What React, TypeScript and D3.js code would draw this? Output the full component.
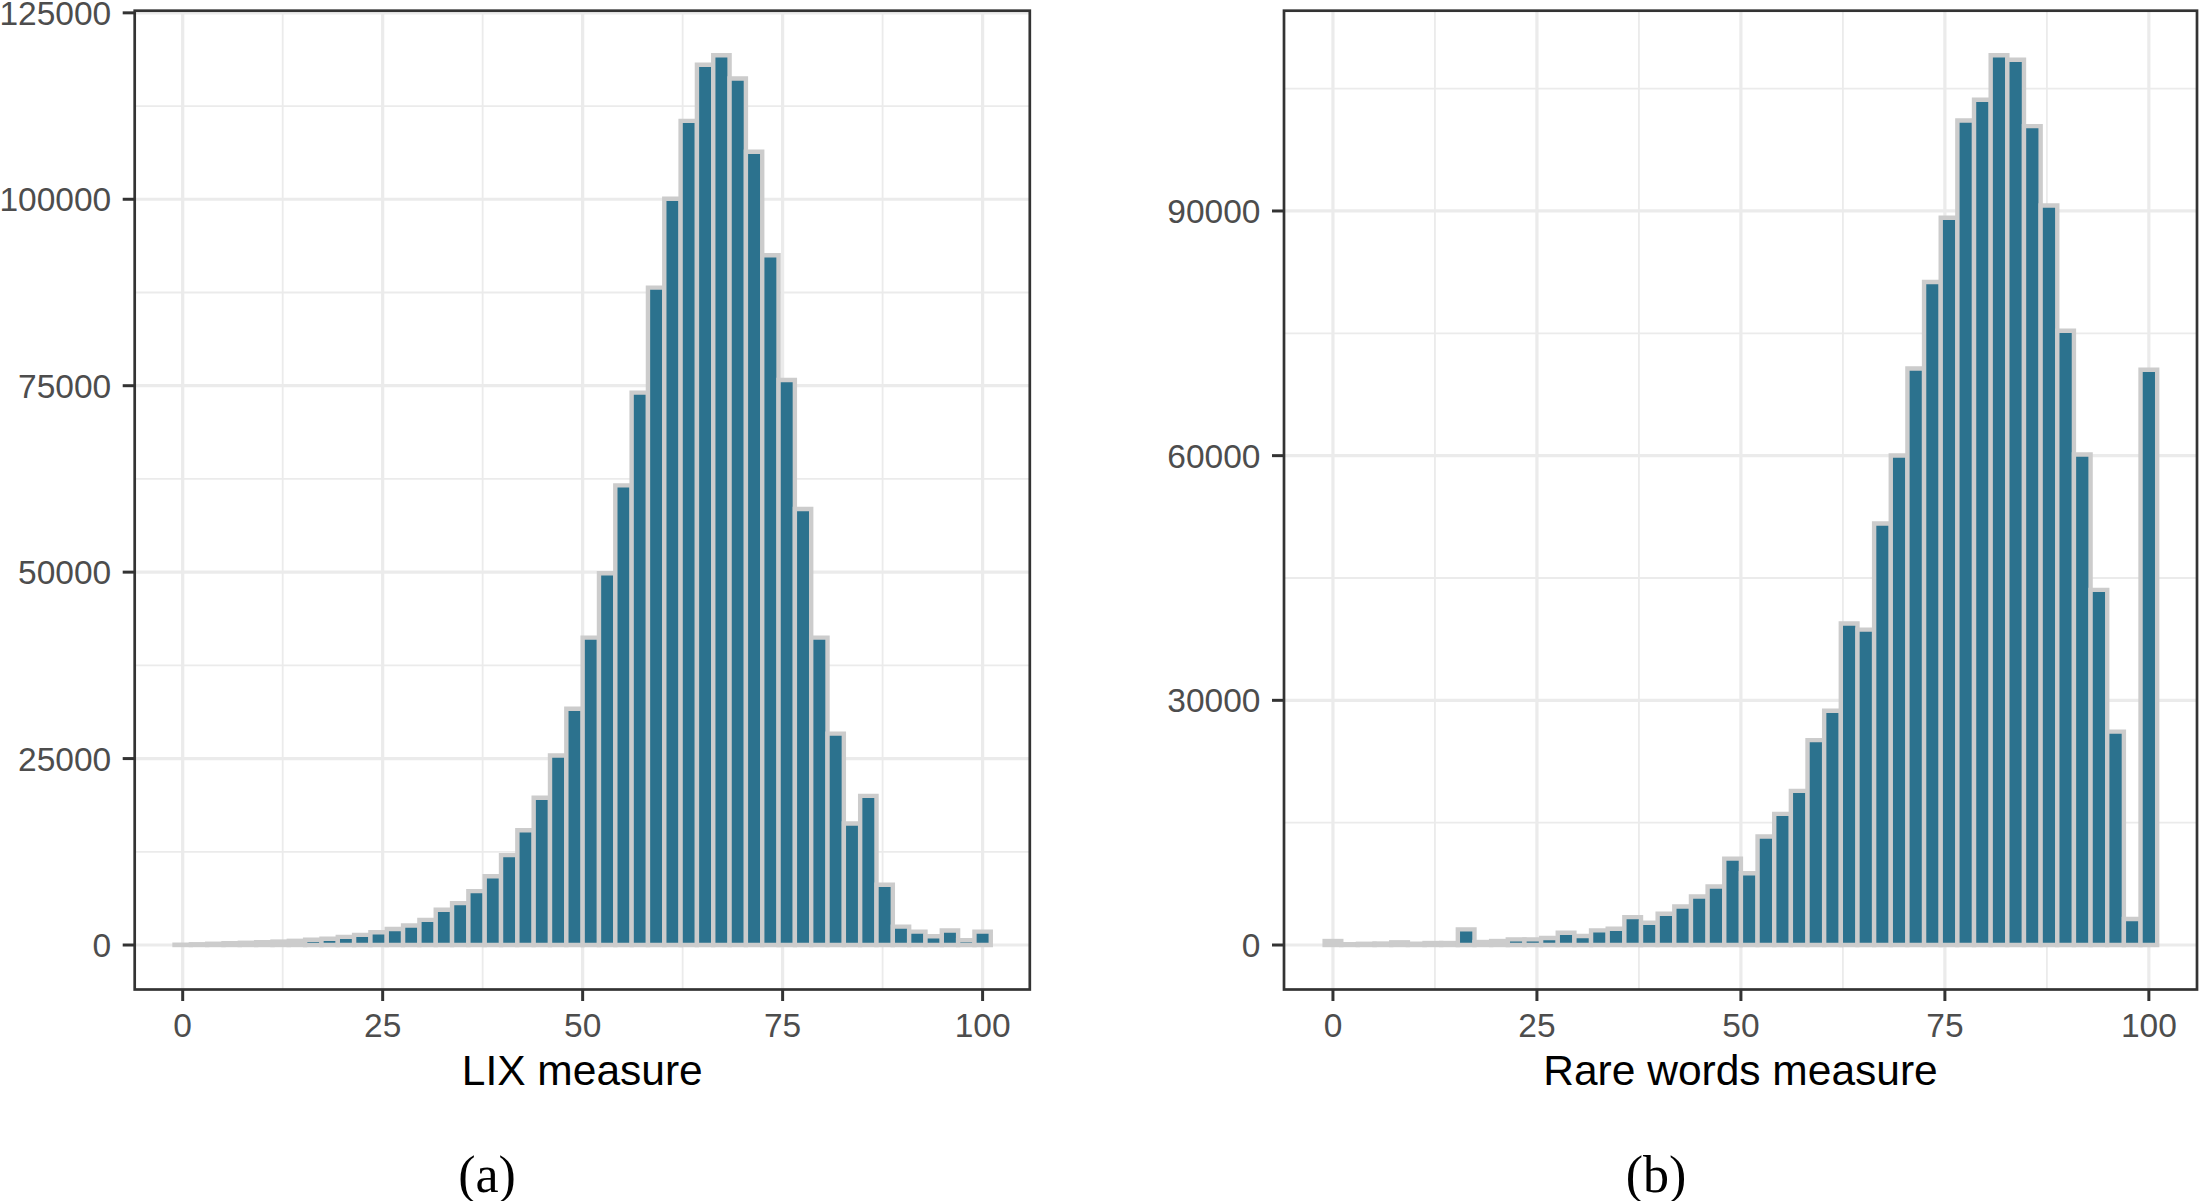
import { scaleLinear, max, range } from "d3";

// histogram counts, 50 bins centred on 0, 2.04, ..., 100
const binCount = 50;
const binWidth = 100 / (binCount - 1);
const binCenters = range(binCount).map((i) => i * binWidth);

const lixCounts = [
    40, 100, 170, 240, 300, 380, 460, 560, 710, 830,
    1090, 1360, 1720, 2140, 2610, 3370, 4730, 5620, 7220, 9230,
    12050, 15380, 19740, 25420, 31690, 41220, 49860, 61630, 74070, 88150,
    100070, 110510, 118040, 119320, 116200, 106370, 92500, 75770, 58460, 41220,
    28340, 16300, 20000, 8090, 2460, 1790, 1180, 1950, 650, 1800,
];

const rareCounts = [
    490, 100, 150, 180, 330, 160, 245, 245, 1915, 370,
    490, 690, 690, 860, 1510, 1100, 1790, 2000, 3420, 2730,
    3830, 4730, 5950, 7170, 10590, 8800, 13300, 16080, 18900, 25120,
    28730, 39420, 38670, 51680, 60010, 70680, 81300, 89170, 101100, 103630,
    109100, 108540, 100400, 90670, 75310, 60150, 43540, 26160, 3190, 70540,
];

const xTicks = [0, 25, 50, 75, 100];
const xMinorTicks = [12.5, 37.5, 62.5, 87.5];
const lixTicks = [0, 25000, 50000, 75000, 100000, 125000];
const lixMinorTicks = [12500, 37500, 62500, 87500, 112500];
const rareTicks = [0, 30000, 60000, 90000];
const rareMinorTicks = [15000, 45000, 75000, 105000];

const W = 2200;
const H = 1201;
const top = 10.7;
const bottom = 989.5;
const xDomain: [number, number] = [-6, 105.9];

const fillColor = "#2C728E";
const edgeColor = "#CCCCCC";
const gridColor = "#EBEBEB";
const axisColor = "#333333";
const tickText = "#4D4D4D";
const sans = "'Liberation Sans', Arial, Helvetica, sans-serif";

interface PanelProps {
    counts: number[];
    yTicks: number[];
    yMinor: number[];
    left: number;
    right: number;
    title: string;
    tag: string;
    tagX: number;
}

function Panel({ counts, yTicks, yMinor, left, right, title, tag, tagX }: PanelProps) {
    const m = max(counts) ?? 1;
    const x = scaleLinear().domain(xDomain).range([left, right]);
    const y = scaleLinear().domain([-0.05 * m, 1.05 * m]).range([bottom, top]);

    return (
        <g>
            {/* minor grid */}
            {yMinor.map((t) => (
                <line key={`ym${t}`} x1={left} x2={right} y1={y(t)} y2={y(t)}
                    stroke={gridColor} strokeWidth={1.8} />
            ))}
            {xMinorTicks.map((t) => (
                <line key={`xm${t}`} x1={x(t)} x2={x(t)} y1={top} y2={bottom}
                    stroke={gridColor} strokeWidth={1.8} />
            ))}
            {/* major grid */}
            {yTicks.map((t) => (
                <line key={`yg${t}`} x1={left} x2={right} y1={y(t)} y2={y(t)}
                    stroke={gridColor} strokeWidth={3.2} />
            ))}
            {xTicks.map((t) => (
                <line key={`xg${t}`} x1={x(t)} x2={x(t)} y1={top} y2={bottom}
                    stroke={gridColor} strokeWidth={3.2} />
            ))}
            {/* bars */}
            {counts.map((v, i) => {
                const c = binCenters[i];
                const x0 = x(c - binWidth / 2);
                const x1 = x(c + binWidth / 2);
                const y0 = y(0);
                const y1 = y(v);
                return (
                    <path key={`bar${i}`}
                        d={`M${x0},${y0}V${y1}H${x1}V${y0}Z`}
                        fill={fillColor} stroke={edgeColor} strokeWidth={4.4}
                        strokeLinejoin="miter" />
                );
            })}
            {/* border */}
            <rect x={left} y={top} width={right - left} height={bottom - top}
                fill="none" stroke={axisColor} strokeWidth={2.7} />
            {/* y axis */}
            {yTicks.map((t) => (
                <g key={`yt${t}`}>
                    <line x1={left - 12} x2={left} y1={y(t)} y2={y(t)}
                        stroke={axisColor} strokeWidth={3} />
                    <text x={left - 23.5} y={y(t)} dy="0.36em" textAnchor="end"
                        fontFamily={sans} fontSize={33.5} fill={tickText}>
                        {t}
                    </text>
                </g>
            ))}
            {/* x axis */}
            {xTicks.map((t) => (
                <g key={`xt${t}`}>
                    <line x1={x(t)} x2={x(t)} y1={bottom} y2={bottom + 11.5}
                        stroke={axisColor} strokeWidth={3} />
                    <text x={x(t)} y={1037} textAnchor="middle"
                        fontFamily={sans} fontSize={33.5} fill={tickText}>
                        {t}
                    </text>
                </g>
            ))}
            <text x={(left + right) / 2} y={1085} textAnchor="middle"
                fontFamily={sans} fontSize={42.5} fill="#000">
                {title}
            </text>
            <text x={tagX} y={1192} textAnchor="middle"
                fontFamily="'Liberation Serif', 'Times New Roman', serif"
                fontSize={52} fill="#000">
                {tag}
            </text>
        </g>
    );
}

export default function App() {
    return (
        <svg width={W} height={H}
            style={{ position: "absolute", left: 0, top: 0, background: "#fff" }}>
            <rect x={0} y={0} width={W} height={H} fill="#fff" />
            <Panel counts={lixCounts} yTicks={lixTicks} yMinor={lixMinorTicks}
                left={134.7} right={1029.8} title="LIX measure" tag="(a)" tagX={487} />
            <Panel counts={rareCounts} yTicks={rareTicks} yMinor={rareMinorTicks}
                left={1284} right={2197} title="Rare words measure" tag="(b)" tagX={1656} />
        </svg>
    );
}
